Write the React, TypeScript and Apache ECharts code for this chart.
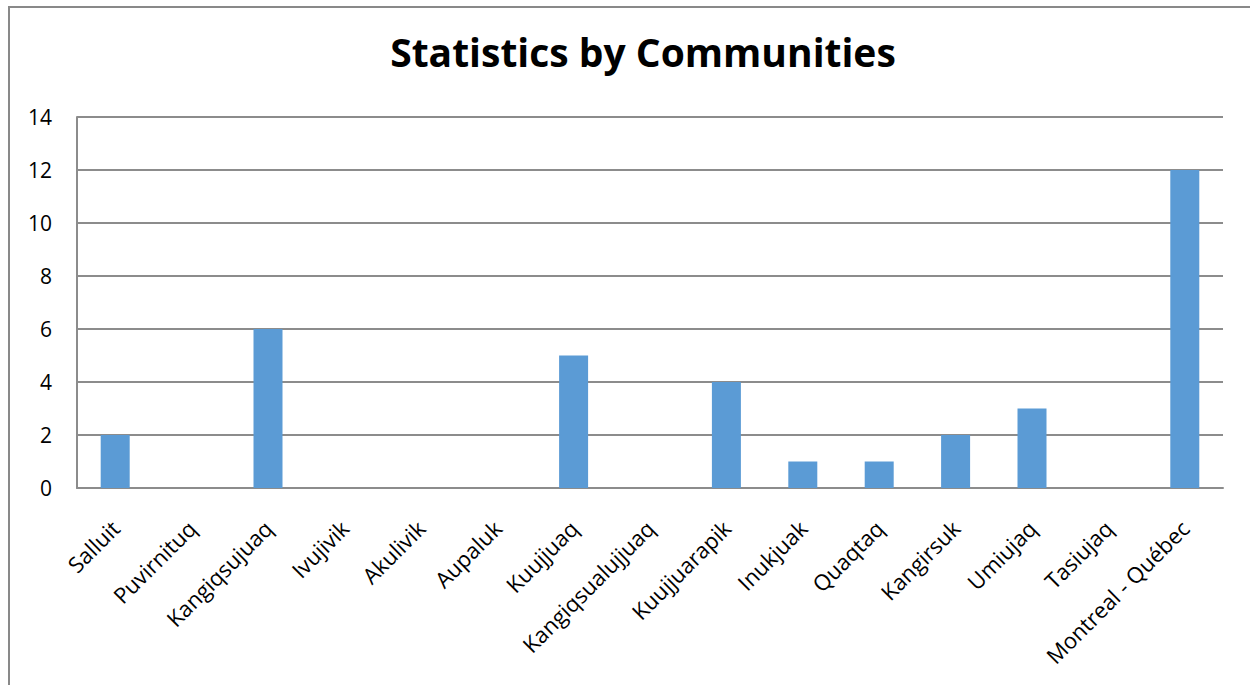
import React, { useEffect, useRef } from "react";
import * as echarts from "echarts";

const categories = [
  "Salluit",
  "Puvirnituq",
  "Kangiqsujuaq",
  "Ivujivik",
  "Akulivik",
  "Aupaluk",
  "Kuujjuaq",
  "Kangiqsualujjuaq",
  "Kuujjuarapik",
  "Inukjuak",
  "Quaqtaq",
  "Kangirsuk",
  "Umiujaq",
  "Tasiujaq",
  "Montreal - Québec",
];
const values = [2, 0, 6, 0, 0, 0, 5, 0, 4, 1, 1, 2, 3, 0, 12];
const titleText = "Statistics by Communities";

export default function App() {
  const ref = useRef<HTMLDivElement>(null);
  useEffect(() => {
    const chart = echarts.init(ref.current!, null, { renderer: "svg" });
    const font = "'Open Sans', sans-serif";
    chart.setOption({
      animation: false,
      backgroundColor: "#ffffff",
      title: {
        text: titleText,
        left: 638,
        top: 27,
        textAlign: "center",
        textStyle: { fontFamily: font, fontSize: 39, fontWeight: "bold", color: "#000" },
      },
      graphic: [
        {
          type: "rect",
          shape: { x: 9, y: 7, width: 1300, height: 720 },
          style: { fill: "none", stroke: "#898989", lineWidth: 2 },
          silent: true,
        },
      ],
      grid: { left: 77, right: 27, top: 117, bottom: 197, containLabel: false },
      xAxis: {
        type: "category",
        data: categories,
        axisLine: { show: true, lineStyle: { color: "#8c8c8c", width: 2 } },
        axisTick: { show: false },
        axisLabel: {
          rotate: 45,
          interval: 0,
          margin: 36,
          fontFamily: font,
          fontSize: 22,
          color: "#000",
        },
      },
      yAxis: {
        type: "value",
        min: 0,
        max: 14,
        interval: 2,
        axisLine: { show: true, lineStyle: { color: "#8c8c8c", width: 2 } },
        axisTick: { show: false },
        splitLine: { show: true, lineStyle: { color: "#8c8c8c", width: 2 } },
        axisLabel: { margin: 25, fontFamily: font, fontSize: 21, color: "#000" },
      },
      series: [
        {
          type: "bar",
          data: values,
          barWidth: 29,
          itemStyle: { color: "#5b9bd5" },
        },
      ],
    });
    return () => chart.dispose();
  }, []);
  return (
    <div
      ref={ref}
      style={{ position: "fixed", left: 0, top: 0, width: 1250, height: 685 }}
    />
  );
}
